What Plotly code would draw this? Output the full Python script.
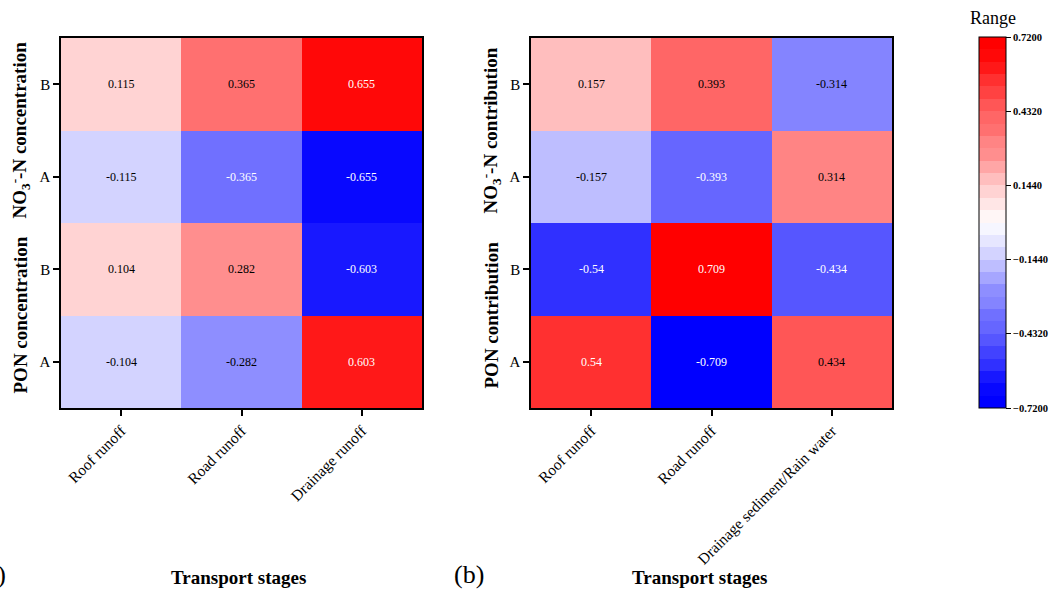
import plotly.graph_objects as go

# ---------------- data ----------------
stages_a = ["Roof runoff", "Road runoff", "Drainage runoff"]
stages_b = ["Roof runoff", "Road runoff", "Drainage sediment/Rain water"]
row_labels = ["A", "B", "A", "B"]  # bottom -> top

conc_pon_A = [-0.104, -0.282, 0.603]
conc_pon_B = [0.104, 0.282, -0.603]
conc_no3_A = [-0.115, -0.365, -0.655]
conc_no3_B = [0.115, 0.365, 0.655]

contrib_pon_A = [0.54, -0.709, 0.434]
contrib_pon_B = [-0.54, 0.709, -0.434]
contrib_no3_A = [-0.157, -0.393, 0.314]
contrib_no3_B = [0.157, 0.393, -0.314]

cbar_ticks = [-0.72, -0.432, -0.144, 0.144, 0.432, 0.72]
zmin, zmax = -0.72, 0.72
n_bands = 30

# ---------------- colours ----------------
W = [246, 230, 211, 190, 166, 142, 132, 112, 102, 86, 66, 48, 24, 8, 0]


def band_rgb(j):
    if j < 15:
        w = W[14 - j]
        return (w, w, 255)
    w = W[j - 15]
    return (255, w, w)


colorscale = []
for j in range(n_bands):
    r, g, b = band_rgb(j)
    c = f"rgb({r},{g},{b})"
    colorscale.append([j / n_bands, c])
    colorscale.append([(j + 1) / n_bands, c])


def text_color(v):
    j = int((v - zmin) / ((zmax - zmin) / n_bands))
    j = max(0, min(n_bands - 1, j))
    r, g, b = band_rgb(j)

    def lin(c):
        c = c / 255
        return c / 12.92 if c <= 0.04045 else ((c + 0.055) / 1.055) ** 2.4

    lum = 0.2126 * lin(r) + 0.7152 * lin(g) + 0.0722 * lin(b)
    return "white" if lum < 0.26 else "black"


z_a = [conc_pon_A, conc_pon_B, conc_no3_A, conc_no3_B]
z_b = [contrib_pon_A, contrib_pon_B, contrib_no3_A, contrib_no3_B]

FONT = "Liberation Serif, Times New Roman, serif"
W_PX, H_PX = 1059, 592

fig = go.Figure()
fig.add_trace(go.Heatmap(z=z_a, x=list(range(len(stages_a))), y=list(range(len(row_labels))),
                         coloraxis="coloraxis", xaxis="x", yaxis="y", hoverinfo="z"))
fig.add_trace(go.Heatmap(z=z_b, x=list(range(len(stages_b))), y=list(range(len(row_labels))),
                         coloraxis="coloraxis", xaxis="x2", yaxis="y2", hoverinfo="z"))

annotations = []
for zz, xr, yr in [(z_a, "x", "y"), (z_b, "x2", "y2")]:
    for i, row in enumerate(zz):
        for k, v in enumerate(row):
            annotations.append(dict(x=k, y=i, xref=xr, yref=yr, text=f"{v:g}", showarrow=False,
                                    font=dict(family=FONT, size=12, color=text_color(v))))

ytop = 1 - 38 / H_PX
ybot = 1 - 408 / H_PX

axis_common = dict(showline=True, mirror=True, linecolor="black", linewidth=1.5,
                   ticks="outside", ticklen=6, tickwidth=1.5, tickcolor="black",
                   showgrid=False, zeroline=False)
xfont = dict(family=FONT, size=15.5, color="black")
yfont = dict(family=FONT, size=15, color="black")

fig.update_layout(
    xaxis=dict(domain=[61 / W_PX, 422 / W_PX], range=[-0.5, 2.5], tickvals=list(range(3)),
               ticktext=stages_a, tickangle=-45, anchor="y", tickfont=xfont, **axis_common),
    yaxis=dict(domain=[ybot, ytop], range=[-0.5, 3.5], tickvals=list(range(4)),
               ticktext=row_labels, anchor="x", tickfont=yfont, **axis_common),
    xaxis2=dict(domain=[531 / W_PX, 892 / W_PX], range=[-0.5, 2.5], tickvals=list(range(3)),
                ticktext=stages_b, tickangle=-45, anchor="y2", tickfont=xfont, **axis_common),
    yaxis2=dict(domain=[ybot, ytop], range=[-0.5, 3.5], tickvals=list(range(4)),
                ticktext=row_labels, anchor="x2", tickfont=yfont, **axis_common),
    coloraxis=dict(cmin=zmin, cmax=zmax, colorscale=colorscale,
                   colorbar=dict(x=979 / W_PX, xanchor="left", y=1 - 37 / H_PX, yanchor="top",
                                 len=371, lenmode="pixels", thickness=27, thicknessmode="pixels",
                                 xpad=0, ypad=0, outlinewidth=1, outlinecolor="black",
                                 tickvals=cbar_ticks, tickformat=".4f", ticks="outside",
                                 ticklen=5, tickwidth=1.2, tickcolor="black",
                                 tickfont=dict(family=FONT, size=10.5, color="black", weight="bold"))),
    width=W_PX, height=H_PX, autosize=False,
    margin=dict(l=0, r=0, t=0, b=0, autoexpand=False),
    paper_bgcolor="white", plot_bgcolor="white",
    font=dict(family=FONT, color="black"),
)

title_font = dict(family=FONT, size=19, color="black")
annotations += [
    dict(text="<b>NO<sub>3</sub><sup>-</sup>-N concentration</b>", x=20 / W_PX, xref="paper", xanchor="center",
         y=2.5, yref="y", yanchor="middle", textangle=-90, showarrow=False, font=title_font),
    dict(text="<b>PON concentration</b>", x=20 / W_PX, xref="paper", xanchor="center",
         y=0.5, yref="y", yanchor="middle", textangle=-90, showarrow=False, font=title_font),
    dict(text="<b>NO<sub>3</sub><sup>-</sup>-N contribution</b>", x=491 / W_PX, xref="paper", xanchor="center",
         y=2.5, yref="y2", yanchor="middle", textangle=-90, showarrow=False, font=title_font),
    dict(text="<b>PON contribution</b>", x=491 / W_PX, xref="paper", xanchor="center",
         y=0.5, yref="y2", yanchor="middle", textangle=-90, showarrow=False, font=title_font),
    dict(text="<b>Transport stages</b>", x=238 / W_PX, xref="paper", xanchor="center",
         y=1 - 577 / H_PX, yref="paper", yanchor="middle", showarrow=False, font=title_font),
    dict(text="<b>Transport stages</b>", x=699 / W_PX, xref="paper", xanchor="center",
         y=1 - 577 / H_PX, yref="paper", yanchor="middle", showarrow=False, font=title_font),
    dict(text="(a)", x=8 / W_PX, xref="paper", xanchor="right", y=1 - 574 / H_PX, yref="paper",
         yanchor="middle", showarrow=False, font=dict(family=FONT, size=26, color="black")),
    dict(text="(b)", x=452 / W_PX, xref="paper", xanchor="left", y=1 - 574 / H_PX, yref="paper",
         yanchor="middle", showarrow=False, font=dict(family=FONT, size=26, color="black")),
    dict(text="Range", x=993 / W_PX, xref="paper", xanchor="center", y=1 - 18 / H_PX, yref="paper",
         yanchor="middle", showarrow=False, font=dict(family=FONT, size=18, color="black")),
]
fig.update_layout(annotations=annotations)

fig.write_html("out.html", config={"displayModeBar": False},
               post_script="document.body.style.margin='0';document.body.style.padding='0';")
